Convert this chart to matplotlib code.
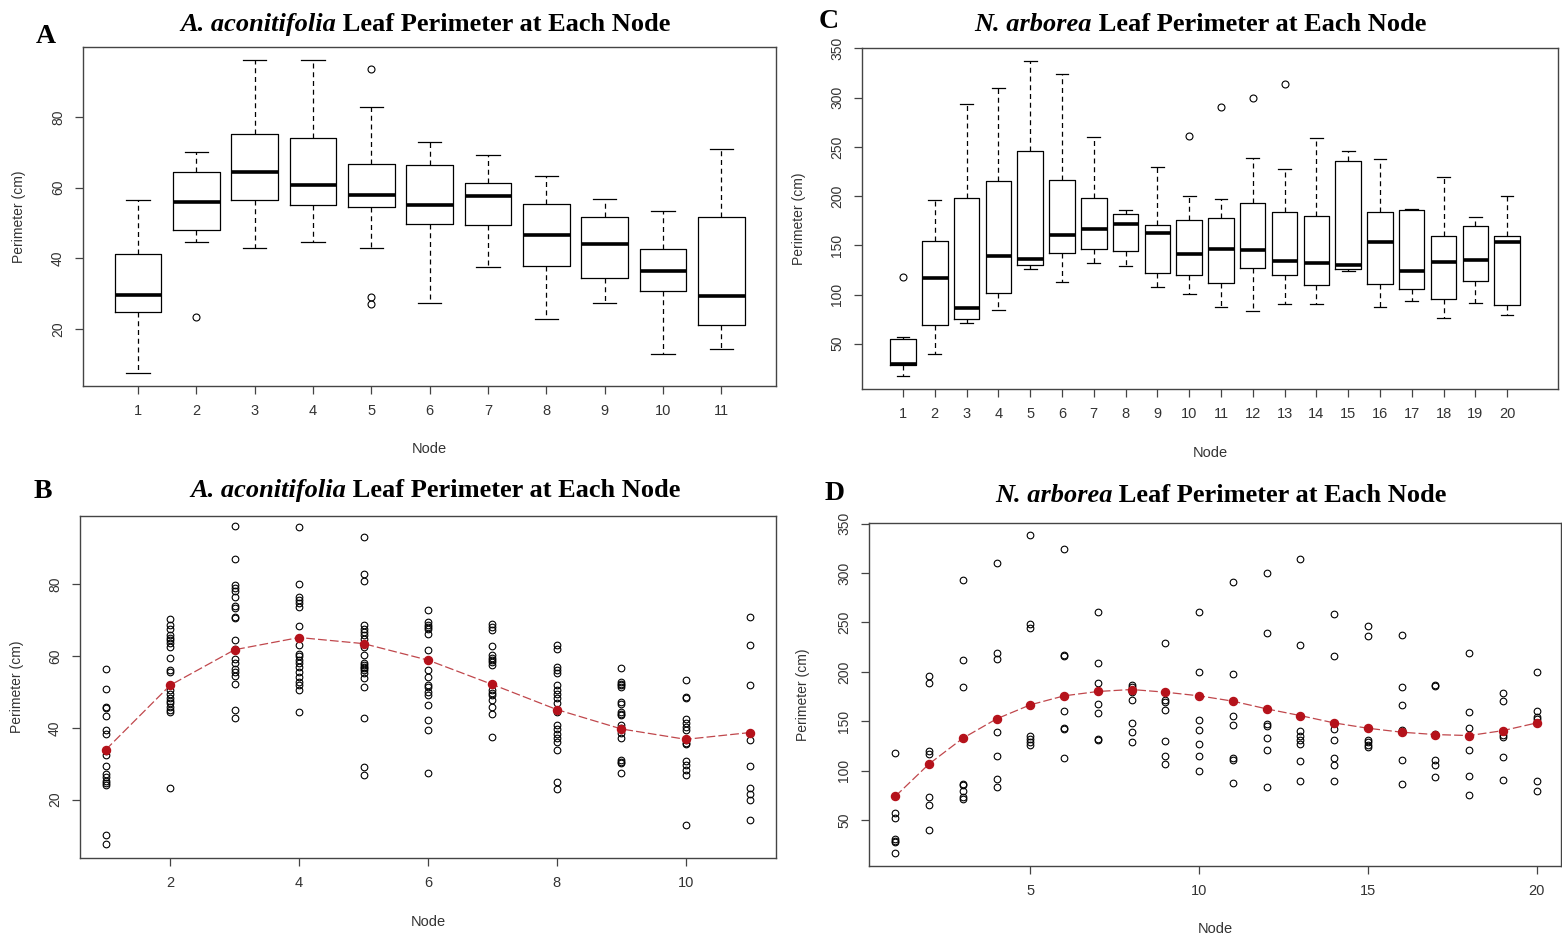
import matplotlib
matplotlib.use("Agg")
import matplotlib.pyplot as plt
import numpy as np

# ---------------------------------------------------------------------------
# A. aconitifolia, nodes 1-11 (panel A box stats, panel B raw points)
# ---------------------------------------------------------------------------
aco_nodes = list(range(1, 12))
aco_whislo = [7.6, 44.5, 42.9, 44.5, 42.9, 27.4, 37.5, 22.9, 27.4, 13.0, 14.2]
aco_q1 = [24.9, 48.1, 56.5, 55.2, 54.6, 49.6, 49.3, 37.8, 34.4, 30.6, 21.0]
aco_med = [29.6, 55.9, 64.5, 60.6, 57.8, 55.2, 57.5, 46.7, 44.1, 36.5, 29.4]
aco_q3 = [41.2, 64.5, 75.2, 74.1, 66.8, 66.4, 61.4, 55.3, 51.8, 42.5, 51.8]
aco_whishi = [56.5, 70.2, 96.1, 96.1, 82.7, 72.9, 69.2, 63.4, 56.8, 53.5, 70.8]
aco_fliers = [[], [23.3], [], [], [93.5, 29.0, 27.0], [], [], [], [], [], []]

aco_points = [
    [56.3, 50.8, 45.9, 45.6, 43.3, 39.5, 38.3, 33.5, 32.4, 29.5, 27.0, 26.2, 25.3, 24.6, 24.0, 10.2, 7.6],
    [70.3, 68.8, 67.5, 66.0, 65.0, 64.5, 63.8, 62.6, 59.5, 56.1, 55.6, 52.0, 50.5, 49.4, 48.2, 47.5, 46.8, 45.9, 44.9, 44.4, 23.2],
    [96.2, 87.0, 79.8, 79.0, 78.3, 76.5, 74.0, 73.5, 71.0, 70.6, 64.5, 62.0, 59.2, 58.0, 56.4, 55.6, 54.4, 52.3, 44.9, 42.7],
    [95.9, 80.0, 76.6, 75.6, 74.7, 73.6, 68.4, 65.0, 63.1, 60.7, 60.1, 58.9, 58.0, 57.0, 55.6, 54.2, 52.8, 51.9, 50.5, 44.5],
    [93.3, 83.0, 81.0, 68.7, 67.7, 66.8, 65.9, 64.9, 62.6, 60.3, 58.0, 57.5, 57.0, 56.7, 56.1, 55.2, 53.8, 51.4, 42.8, 29.0, 26.9],
    [72.8, 69.6, 68.8, 68.2, 67.5, 66.3, 61.7, 56.1, 54.2, 51.9, 51.4, 50.0, 49.1, 46.3, 42.1, 39.3, 27.3],
    [69.1, 68.2, 67.3, 62.9, 60.3, 59.5, 59.0, 58.5, 57.5, 50.5, 49.6, 49.2, 47.7, 45.9, 43.8, 37.5],
    [63.1, 62.1, 57.0, 56.1, 55.3, 51.9, 50.5, 49.4, 48.2, 46.8, 44.5, 40.7, 39.8, 38.4, 37.3, 36.1, 33.8, 24.9, 22.9],
    [56.6, 52.7, 52.3, 52.0, 51.5, 47.3, 46.6, 44.5, 44.0, 43.5, 40.7, 40.0, 38.7, 37.3, 31.0, 30.6, 30.2, 27.3],
    [53.3, 48.7, 48.2, 42.6, 41.4, 40.3, 39.3, 36.5, 35.9, 35.4, 30.8, 29.6, 28.2, 26.8, 12.8],
    [70.8, 63.0, 51.9, 36.7, 29.3, 23.3, 21.5, 20.0, 14.2],
]
aco_fit = [33.9, 51.9, 61.8, 65.2, 63.5, 58.9, 52.1, 45.1, 39.7, 36.8, 38.7]

# ---------------------------------------------------------------------------
# N. arborea, nodes 1-20 (panel C box stats, panel D raw points)
# ---------------------------------------------------------------------------
arb_nodes = list(range(1, 21))
arb_whislo = [17.2, 39.6, 71.0, 84.0, 125.6, 112.7, 131.7, 128.6, 108.0, 100.5,
              87.6, 83.6, 90.7, 90.4, 124.2, 86.9, 93.7, 76.1, 91.0, 78.8]
arb_q1 = [28.0, 69.4, 75.1, 102.0, 130.0, 142.0, 146.0, 144.2, 122.2, 120.1,
          111.7, 127.0, 119.5, 109.3, 126.2, 110.3, 105.2, 95.1, 113.4, 89.7]
arb_med = [29.4, 117.1, 86.0, 139.4, 135.7, 160.0, 167.0, 172.0, 162.5, 141.1,
           146.5, 144.9, 133.7, 131.7, 129.6, 153.7, 124.2, 132.7, 135.0, 153.0]
arb_q3 = [55.0, 154.3, 198.3, 215.0, 245.4, 216.3, 198.3, 181.4, 170.2, 176.0,
          177.4, 193.3, 183.4, 179.4, 235.6, 184.1, 185.5, 159.1, 169.9, 159.7]
arb_whishi = [57.2, 196.3, 293.1, 310.0, 337.5, 323.6, 260.3, 186.0, 229.1, 200.0,
              197.3, 238.6, 227.5, 258.6, 245.4, 237.3, 186.5, 219.3, 178.7, 200.0]
arb_fliers = [[117.4], [], [], [], [], [], [], [], [], [260.6],
              [290.8], [299.6], [314.1], [], [], [], [], [], [], []]

arb_points = [
    [117.4, 57.5, 52.0, 30.5, 29.0, 27.5, 17.0],
    [196.0, 189.0, 120.0, 117.0, 73.5, 65.5, 39.5],
    [293.0, 211.5, 185.0, 86.5, 85.5, 79.0, 73.0, 71.5],
    [310.5, 219.0, 212.5, 139.0, 114.5, 91.5, 83.5],
    [338.0, 248.5, 244.0, 135.5, 132.0, 128.5, 126.0],
    [324.0, 217.0, 216.0, 160.0, 143.0, 142.0, 112.5],
    [260.5, 209.0, 189.0, 167.0, 158.0, 132.5, 131.5],
    [186.5, 184.5, 180.0, 171.5, 148.5, 139.0, 128.5],
    [229.5, 171.0, 169.5, 161.5, 129.5, 114.5, 107.0],
    [260.5, 200.0, 151.5, 141.0, 126.5, 114.5, 100.0],
    [291.0, 197.5, 155.0, 146.5, 112.5, 111.0, 87.5],
    [299.5, 239.0, 147.5, 145.0, 133.0, 120.5, 83.5],
    [314.5, 227.5, 140.5, 135.5, 131.5, 127.0, 109.5, 90.0],
    [258.5, 216.5, 142.0, 131.5, 112.5, 106.0, 90.0],
    [246.0, 236.0, 131.0, 128.5, 126.0, 124.0],
    [237.0, 184.5, 166.0, 141.5, 110.5, 86.5],
    [187.0, 185.5, 137.0, 111.0, 105.5, 94.0],
    [219.0, 159.0, 143.0, 121.0, 95.0, 75.5],
    [178.5, 170.0, 136.0, 134.0, 113.5, 91.0],
    [200.0, 160.0, 154.0, 152.0, 89.5, 79.0],
]
arb_fit = [74.0, 106.8, 132.8, 152.4, 166.6, 175.7, 180.1, 182.1, 179.4, 175.7,
           170.3, 162.5, 155.7, 148.3, 142.9, 138.9, 136.5, 135.5, 140.5, 148.3]

# ---------------------------------------------------------------------------
# Plot
# ---------------------------------------------------------------------------
W, H = 1562, 938
fig = plt.figure(figsize=(W / 100, H / 100), dpi=100)
fig.patch.set_facecolor("white")

SANS = "Liberation Sans"
SERIF = "Liberation Serif"
TXT = "#333333"
RED = "#b5121b"


def px_axes(left, top, right, bottom):
    return fig.add_axes([left / W, 1 - bottom / H, (right - left) / W, (bottom - top) / H])


def r_style(ax, xticks, yticks, xlim, ylim, ylab_x, xlab_y):
    ax.set_xlim(*xlim)
    ax.set_ylim(*ylim)
    ax.set_xticks(xticks)
    ax.set_xticklabels([str(t) for t in xticks], fontfamily=SANS, fontsize=10.5, color=TXT)
    ax.set_yticks(yticks)
    ax.set_yticklabels([str(t) for t in yticks], fontfamily=SANS, fontsize=10,
                       color=TXT, rotation=90, va="center")
    for s in ax.spines.values():
        s.set_color("#444444")
        s.set_linewidth(1.0)
    ax.tick_params(direction="out", length=6, width=0.9, color="#444444", pad=7)
    ax.set_ylabel("Perimeter (cm)", fontfamily=SANS, fontsize=10, color=TXT)
    ax.set_xlabel("Node", fontfamily=SANS, fontsize=10.5, color=TXT)
    ax.yaxis.set_label_coords(ylab_x, 0.5)
    ax.xaxis.set_label_coords(0.5, xlab_y)


def draw_box(ax, nodes, lo, q1, med, q3, hi, fliers):
    stats = [dict(whislo=a, q1=b, med=c, q3=d, whishi=e, fliers=f)
             for a, b, c, d, e, f in zip(lo, q1, med, q3, hi, fliers)]
    ax.bxp(stats, positions=nodes, widths=0.8, manage_ticks=False,
           boxprops=dict(color="black", lw=0.9),
           medianprops=dict(color="black", lw=2.6, solid_capstyle="butt"),
           whiskerprops=dict(color="black", lw=0.9, linestyle=(0, (4, 3))),
           capprops=dict(color="black", lw=0.9),
           flierprops=dict(marker="o", mfc="none", mec="black", ms=5, mew=0.8))


def draw_scatter(ax, nodes, points, fit):
    xs = np.repeat(nodes, [len(p) for p in points])
    ys = np.concatenate([np.asarray(p) for p in points])
    ax.plot(xs, ys, "o", mfc="none", mec="black", ms=4.8, mew=0.8)
    ax.plot(nodes, fit, color="#c0474c", lw=0.9, linestyle=(0, (7, 2.5)))
    ax.plot(nodes, fit, "o", color=RED, ms=5.8, mec=RED)


def title(x_px, base_px, species, rest, size=19):
    t1 = fig.text(x_px / W, 1 - base_px / H, species, fontfamily=SERIF,
                  fontweight="bold", fontstyle="italic", fontsize=size, va="baseline")
    fig.canvas.draw()
    bb = t1.get_window_extent(renderer=fig.canvas.get_renderer())
    fig.text(bb.x1 / W, 1 - base_px / H, " " + rest, fontfamily=SERIF,
             fontweight="bold", fontsize=size, va="baseline")


def letter(x_px, base_px, s):
    fig.text(x_px / W, 1 - base_px / H, s, fontfamily=SERIF, fontweight="bold",
             fontsize=20, va="baseline")


# Panel A
axA = px_axes(83, 47, 776, 386)
draw_box(axA, aco_nodes, aco_whislo, aco_q1, aco_med, aco_q3, aco_whishi, aco_fliers)
r_style(axA, aco_nodes, [20, 40, 60, 80], (0.06, 11.94), (3.85, 99.8), -0.082, -0.165)

# Panel C
axC = px_axes(862, 48, 1558, 389)
draw_box(axC, arb_nodes, arb_whislo, arb_q1, arb_med, arb_q3, arb_whishi, arb_fliers)
r_style(axC, arb_nodes, [50, 100, 150, 200, 250, 300, 350], (-0.29, 21.6), (4, 350.5),
        -0.08, -0.168)

# Panel B
axB = px_axes(80, 516, 776, 858)
draw_scatter(axB, aco_nodes, aco_points, aco_fit)
r_style(axB, [2, 4, 6, 8, 10], [20, 40, 60, 80], (0.6, 11.4), (3.7, 99.1), -0.08, -0.167)

# Panel D
axD = px_axes(869, 523, 1561, 866)
draw_scatter(axD, arb_nodes, arb_points, arb_fit)
r_style(axD, [5, 10, 15, 20], [50, 100, 150, 200, 250, 300, 350], (0.22, 20.72), (3.5, 350.6),
        -0.085, -0.164)

letter(36, 43, "A")
letter(819, 28, "C")
letter(34, 498, "B")
letter(825, 500, "D")

title(180, 31, "A. aconitifolia", "Leaf Perimeter at Each Node")
title(974, 31, "N. arborea", "Leaf Perimeter at Each Node")
title(190, 497, "A. aconitifolia", "Leaf Perimeter at Each Node")
title(995, 502, "N. arborea", "Leaf Perimeter at Each Node")

fig.savefig("out.png", dpi=100)
